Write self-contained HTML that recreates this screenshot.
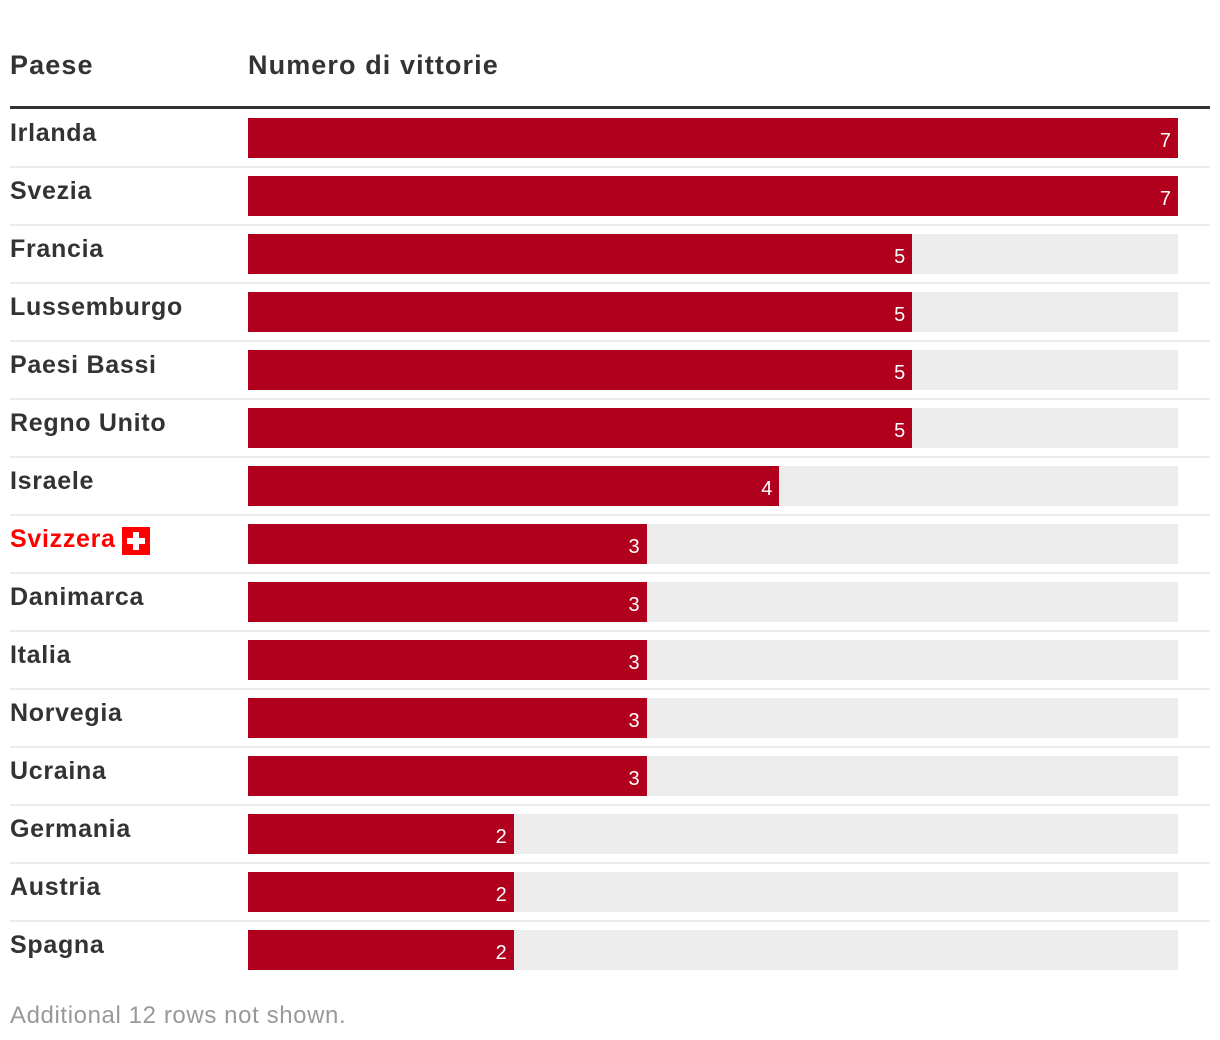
<!DOCTYPE html>
<html><head><meta charset="utf-8">
<style>
body{margin:0;width:1220px;height:1040px;background:#fff;font-family:"Liberation Sans",sans-serif;position:relative;overflow:hidden}
.abs{position:absolute}
.hdr{font-weight:bold;font-size:27px;color:#333;top:50px;letter-spacing:1.1px}
.lbl{font-weight:bold;font-size:25px;color:#333;left:10px;white-space:nowrap;letter-spacing:0.7px}
.track{background:#ececec;height:40px}
.bar{background:#b0001e;height:40px}
.val{color:#fff;font-size:20px;text-align:right}
.sep{left:10px;width:1200px;height:2px;background:#ebebeb}
</style></head><body>
<div class="abs hdr" style="left:10px">Paese</div>
<div class="abs hdr" style="left:248px">Numero di vittorie</div>
<div class="abs" style="left:10px;top:106px;width:1200px;height:3px;background:#333"></div>
<div id="chart"></div>
<div class="abs" style="left:10px;top:1002px;font-size:24px;color:#999;letter-spacing:0.6px">Additional 12 rows not shown.</div>
<script>
const countries=["Irlanda","Svezia","Francia","Lussemburgo","Paesi Bassi","Regno Unito","Israele","Svizzera","Danimarca","Italia","Norvegia","Ucraina","Germania","Austria","Spagna"];
const wins=[7,7,5,5,5,5,4,3,3,3,3,3,2,2,2];
const maxWins=7;
const chart=document.getElementById('chart');
const x0=248,fullW=930;
function xs(v){return v/maxWins*fullW;}
countries.forEach((c,i)=>{
  const top=118+58*i;
  const lbl=document.createElement('div');
  lbl.className='abs lbl';
  lbl.style.top=(top+1)+'px';
  
  
  lbl.textContent=c;
  if(c==="Svizzera"){
    lbl.style.color='#f00';
    lbl.innerHTML='Svizzera<span style="display:inline-block;width:28px;height:28px;background:#f00;position:relative;vertical-align:-8px;margin-left:6px"><span style="position:absolute;left:11px;top:5px;width:6px;height:18px;background:#fff"></span><span style="position:absolute;left:5px;top:11px;width:18px;height:6px;background:#fff"></span></span>';
  }
  chart.appendChild(lbl);
  const tr=document.createElement('div');
  tr.className='abs track';
  tr.style.cssText+=`left:${x0}px;top:${top}px;width:${fullW}px`;
  
  
  chart.appendChild(tr);
  const w=xs(wins[i]);
  const b=document.createElement('div');
  b.className='abs bar';
  b.style.cssText+=`left:${x0}px;top:${top}px;width:${w}px`;
  
  
  chart.appendChild(b);
  const v=document.createElement('div');
  v.className='abs val';
  v.style.cssText+=`left:${x0}px;top:${top+12}px;width:${w-7}px`;
  
  
  v.textContent=wins[i];
  chart.appendChild(v);
  if(i<countries.length-1){
    const s=document.createElement('div');
    s.className='abs sep';
    s.style.top=(top+48)+'px';
    
    
    chart.appendChild(s);
  }
});
</script>
</body></html>
